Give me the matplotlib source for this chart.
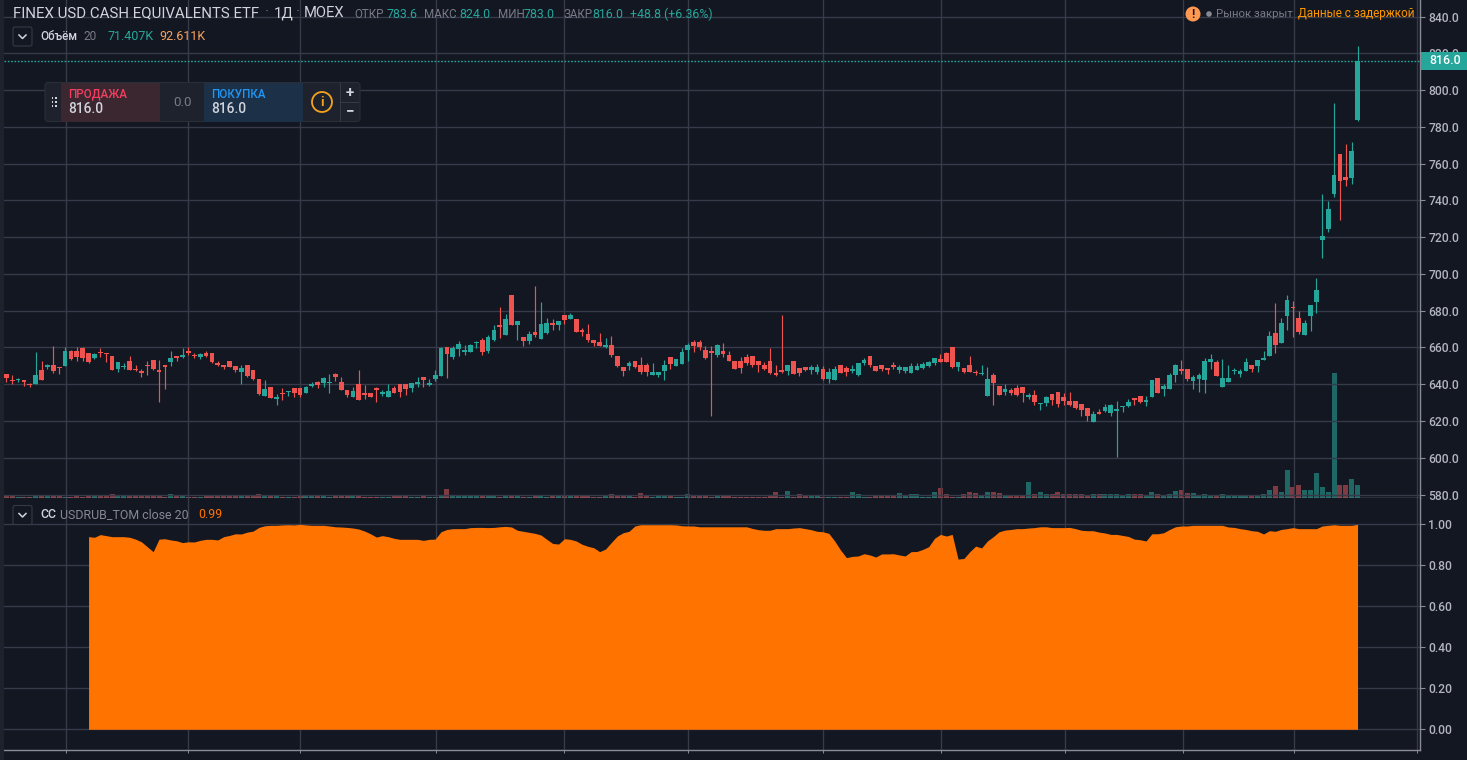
import numpy as np
import matplotlib
matplotlib.use("Agg")
import matplotlib.pyplot as plt
from matplotlib.patches import Rectangle, FancyBboxPatch, Circle
from matplotlib.transforms import Affine2D

# ---------- data ----------
opens = [
 645.4,642.3,642.3,642.2,640,640.2,647.7,649.2,650.5,649.2,
 650.1,658,658,659.6,656.8,654.2,657.8,657.1,655.3,648.3,
 649.2,652.6,648.5,647.4,650.5,653.2,647.7,650.3,652.1,655.1,
 654.8,658,655.9,654.6,656.9,656.8,651.7,650.3,652.4,649.7,
 646.7,650.5,647.7,642.9,633.7,638.6,632.1,635.3,635.7,637.8,
 637.8,635.5,639.1,641.3,640.9,640.7,645.4,641.1,636.9,633.3,
 640,635.1,635.1,637.8,634.8,633.3,638.2,640,640,637.7,
 640.2,643.8,639.6,642.7,644.5,660,654.6,659.1,657.7,657.3,
 662.5,664.3,658,664.3,672.1,666.7,688.8,672.1,665.6,663.4,
 668.3,664.5,667.9,673.3,672.3,677.5,675.3,675.3,669.4,667.6,
 664.3,662.9,660.2,661.1,655.3,649.2,649.9,652.4,650.5,650.5,
 645.2,645.2,647.2,654.6,649.9,651,658.6,662.9,662.9,658.6,
 658,655.7,658,655.9,652.6,652.6,654.6,655.3,652.6,650.5,
 652.6,646.3,647.7,647.2,652.6,648.6,649.2,647.7,646.8,648.1,
 642.9,642.3,650.5,648.6,647.2,644.9,651.4,655.3,649.9,650.5,
 648.6,650.5,647.7,647,646,647.7,649,649.9,651.4,653.7,
 656.8,660,649.5,648.6,650.5,646.8,645.4,633.7,645,638.9,
 635.9,636.8,638,638.4,633.3,634.2,629.4,629.9,634.8,635.7,
 633,631,631,629.4,627.2,619.3,624.7,625.6,624.3,625.2,
 627.6,628.3,632.4,633.7,630.1,633.3,643.4,637.6,637.6,645.1,
 648.3,648.3,642,642.7,642.4,652.1,652.1,638.6,641.3,647.1,
 645.8,647.4,650.3,649.9,653.4,655.6,668,662.6,677.3,682.3,
 675.8,666.9,677.3,684.8,718.3,724.3,743.3,765.5,752.8,752.5,
 783.6]
highs = [
 645.6,645,643.6,642.2,640.7,657.3,652.6,651,660.7,649.2,
 660,658.9,660,660,656.8,657.1,659.5,657.1,655.3,651.9,
 651.4,655.3,650.5,648.1,652.6,653.2,653.2,650.3,658,655.1,
 659.5,660,656.8,656.8,658,656.8,652.4,650.3,652.4,649.7,
 650.3,650.5,647.7,642.9,642.3,638.6,634.6,637.8,636.2,637.8,
 637.8,639,641.4,641.8,643.8,645.4,645.9,643.8,636.9,638.4,
 647.7,639.6,635.1,638.7,636.9,640,639.1,640,640,640.7,
 643.8,643.8,642.9,647.7,660,660,661,663.4,661.3,662,
 663.4,664.9,667,672.1,682.3,678,688.8,674.2,665.6,669,
 693.7,685,676.2,675.7,674.4,677.5,678.7,675.3,670.8,672.6,
 664.3,668,664.9,666.1,655.3,649.2,652.8,652.4,654.6,651.4,
 651.4,646.5,653.2,654.6,653.7,659.5,662.5,664.3,664.3,661,
 660.7,661.8,662.2,658,652.6,655,656.4,655.3,652.6,652.3,
 659.8,650.5,677.5,650.5,652.6,648.6,649.2,650.5,651,649.9,
 648.6,649.9,650.5,649.9,650.5,651.7,654.4,655.3,649.9,650.5,
 648.6,652.3,650.3,649.5,651.4,651.4,652.3,652.6,654.1,656.4,
 657.7,660,652.1,648.6,655.3,647.7,650.5,649.2,646,638.9,
 640.2,637.8,639.6,638.4,635.1,636.9,629.9,633.7,634.8,635.7,
 635.1,635.7,631,629.4,627.2,625.2,626.5,629.2,629.2,631,
 628.1,631.9,632.4,633.7,633.7,642.4,643.4,640.2,646,651,
 653.2,648.3,645.1,646,654.1,656.5,653.2,653.6,650.5,648.9,
 648.5,654.1,650.3,653.2,658.1,669,684,676.3,688.8,685.4,
 680,674.9,683,697.9,743.3,739.8,792.8,765.5,770.7,771.8,
 824]
lows = [
 641.4,640.2,641.4,639.1,638.7,640.2,642.3,648.1,646.3,645.8,
 650.1,653.2,652.6,652.6,651.4,653.9,655,652.3,647.9,646.8,
 648.1,647.7,647,644.1,645.2,647.7,630.1,637.5,649.9,652.8,
 654.4,655.7,654.4,653.5,654.6,651.4,649.9,648.1,649.5,646.8,
 640.2,643.8,642.3,634.2,633.7,632.3,628.8,631.5,633.7,632.8,
 632.8,635.5,638.4,637.8,638.7,635.5,642,636.9,633.3,633.3,
 631.5,631.9,632.8,630.5,633.7,633.3,635.1,633.3,634.2,636,
 638.7,638.7,639.1,642,644.5,643.6,653.5,655.3,655.9,657.3,
 659.5,655.9,657.1,663.6,665.2,666.7,672.1,664,660.7,661.8,
 665.8,664.5,667.6,669.7,669.4,672.6,675.3,668.5,666.1,663.1,
 660.7,660.7,659.8,655,649.2,644.7,647.7,648.6,645.6,644.7,
 645.2,643.8,642.3,648.3,649.9,651,652.6,657.5,658.6,653.5,
 622.5,655,654.6,652.6,648.3,646,650.5,649.5,646.7,647.7,
 645.4,644.5,646,645,645.6,644.5,647,645.6,645.6,642.3,
 640.9,642.3,646,644.5,646,644.5,650.5,649.5,647.4,647.4,
 645.6,648.1,646,646,646,647.7,648.1,649.5,650.5,652.3,
 651.9,648.6,647.2,646,646.5,645,645,633.7,628.8,634.2,
 634.2,634.2,633.7,630.6,632.1,628.8,625.8,627.9,628.8,627.6,
 628.8,628.3,626.7,622.5,619.8,619.3,623.6,624.7,622.9,600.4,
 624.7,627.6,628.8,630,628.4,633.3,635.5,633.7,637.6,641.3,
 645.4,641.6,637.3,635.8,635.5,648.1,644.5,638.6,641.3,645.6,
 644.2,647.4,646.7,646.9,653.4,655.6,656.8,662.6,669.5,665.9,
 667.3,666.9,668.9,678.5,708.7,722.8,741.8,729.2,747.8,749.2,
 783]
closes = [
 643.2,641.6,642.9,641.1,639.6,644.9,642.3,650.5,647,648.6,
 658,653.7,655,654.2,651.9,656.4,657.1,656.4,647.9,651.9,
 649.9,647.7,647.9,646.3,650.1,648.3,646.8,649.4,654.2,654.2,
 655.9,657.1,655.3,656.4,655.3,652.1,650.5,649.2,649.5,647.7,
 648.6,644.5,642.7,634.8,637.5,632.3,633.2,634.8,636.2,635.3,
 633.9,638.4,640.2,639.5,643.2,641.4,644.1,636.9,634.2,636.4,
 631.5,633.9,633.3,636.6,635.9,636.4,635.5,635.9,637.5,640.5,
 641.3,642.3,640.5,645,659.6,656.4,659.8,661.8,658.7,661.3,
 663.1,657.3,665.6,669.4,671.2,675.3,672.1,674.2,663.8,667.2,
 667,672.6,673.3,672.4,674.4,674.8,677.5,668.5,668.6,664,
 662.2,660.7,661.4,655.9,649.9,647.4,651.5,649.4,646.8,646.7,
 646.5,646.5,650.5,651,653.7,657.5,661.3,660.7,660,654.1,
 657.1,661.3,656.4,652.6,648.3,648.9,651.7,650.5,650.5,648.3,
 646,645,646.7,650.5,645.6,646,647.7,649.5,649.5,642.9,
 646.8,648.1,646,646.8,648.5,651.7,653.2,650.5,647.4,648.1,
 647.7,649.2,649.2,649.2,649.9,650.1,651,651.9,654.1,652.3,
 651.9,649.5,652.1,646.8,646.8,646,646.1,642.9,640.9,634.2,
 637.5,635.1,634.2,635.3,633.9,630.5,629.9,633.2,631.5,629.4,
 630.8,628.8,627.2,626.1,622.5,624,623.6,627.4,628.5,626.7,
 628.1,630.6,631.2,630.6,631.5,642.4,635.5,639.1,645.1,650.5,
 647.2,642.7,643.8,644.9,652.7,653.6,644.5,643.3,643.3,647.8,
 647.2,652.1,648.3,653.2,654.1,666.2,661.3,673.1,686.1,681.4,
 668.4,673.1,683,691.5,720.5,735.5,754.1,750.5,751,767.1,
 816]
volumes_k = [
 11,11,8,8,4,18,11,11,11,11,
 4,4,11,4,16,11,18,18,28,18,
 11,11,14,14,14,14,14,4,28,11,
 11,8,8,4,11,11,11,11,11,11,
 11,11,14,28,18,11,11,8,4,8,
 11,18,18,14,11,4,11,11,14,11,
 11,8,8,4,4,4,21,14,11,4,
 4,11,4,8,18,60,18,14,14,11,
 11,14,11,18,4,11,11,11,4,8,
 11,11,4,11,11,14,11,11,11,11,
 8,8,11,26,19,19,19,8,30,11,
 8,11,14,14,8,8,26,19,19,11,
 8,19,19,11,8,8,8,8,8,8,
 19,38,4,45,8,26,14,11,11,8,
 8,8,8,8,38,28,8,8,14,14,
 14,19,30,19,26,26,8,8,38,66,
 26,8,8,26,38,33,19,38,42,30,
 14,14,14,14,114,23,43,28,28,43,
 23,23,23,23,14,23,23,26,28,26,
 14,23,28,28,14,43,23,9,26,47,
 57,36,36,14,26,14,14,26,14,21,
 9,9,14,14,26,55,85,43,199,78,
 92,55,55,175,78,43,880,92,92,135,
 92.6]
cc_start = 14
cc_values = [
 .937,.934,.947,.942,.937,.937,.937,.934,.925,.912,.888,.864,.925,.927,.921,.917,.908,.912,.911,.919,
 .924,.924,.921,.937,.943,.951,.950,.959,.964,.982,.990,.992,.992,.994,.995,.994,.997,.994,.992,.992,
 .992,.989,.985,.984,.982,.979,.974,.964,.951,.935,.942,.937,.929,.924,.924,.924,.924,.919,.924,.925,
 .961,.972,.976,.976,.976,.981,.982,.982,.981,.982,.985,
 .987,.984,.968,.963,.958,.953,.945,.924,.904,.901,.927,.924,.916,.900,.890,.883,.864,.877,.909,.940,
 .956,.963,.989,.995,.995,.995,.995,.995,.995,.994,.990,.989,.989,.985,.985,.985,.985,.985,.985,.985,
 .985,.985,.977,.971,.968,.968,.976,.976,.976,.979,.981,.976,.971,.963,.961,.953,.916,.872,.835,.841,
 .843,.854,.848,.838,.853,.853,.854,.848,.843,.864,.865,.875,.888,.929,.948,.940,.948,.828,.831,.864,
 .891,.882,.916,.937,.961,
 .969,.972,.976,.976,.979,.981,.985,.985,.981,.981,.981,.982,.976,.968,.966,.966,.959,.955,.948,.948,
 .943,.938,.925,.922,.916,.951,.951,.956,.972,.985,.989,.989,.992,.992,.992,.992,.992,.992,.984,.982,
 .976,.972,.966,.963,.950,.966,.963,.972,.976,.981,.976,.976,.976,.976,.989,.992,.995,.992,.992,.992,.997]
price_ticks = list(range(580, 841, 20))
cc_ticks = [0, .2, .4, .6, .8, 1.0]
time_ticks = [10.11, 30.97, 49.99, 73.09, 94.98, 115.98, 139.06, 159.15, 180.15, 200.24, 219.23, 240.17]
last_price = 816.0

# ---------- style ----------
plt.rcParams['font.family'] = ['Roboto', 'DejaVu Sans']
BG = '#131722'; GRID = '#363a49'; AXIS = '#8a8d96'; TXT = '#b2b5be'
UP = '#26a69a'; DOWN = '#ef5350'; VUP = '#1f6764'; VDOWN = '#7f3a42'; ORANGE = '#ff7300'
W, H = 1467, 760
fig = plt.figure(figsize=(W/100, H/100), dpi=100, facecolor=BG)
px = Affine2D().scale(1/W, -1/H).translate(0, 1) + fig.transFigure

def axes_px(x0, y0, x1, y1):
    return fig.add_axes([x0/W, 1-y1/H, (x1-x0)/W, (y1-y0)/H])

idx = np.arange(len(closes))
o, h, l, c = map(np.array, (opens, highs, lows, closes))
up = c >= o
xlim = (-0.391, 240.63)

ax_vol = axes_px(4, 0, 1420, 497.7)
ax = axes_px(4, 0, 1420, 497.7)
ax2 = axes_px(4, 497.7, 1420, 750)
ax_vol.set_zorder(0); ax.set_zorder(1); ax2.set_zorder(1)
ax.patch.set_visible(False)

# volume
ax_vol.set_facecolor(BG)
ax_vol.bar(idx, volumes_k, width=0.86, color=np.where(up, VUP, VDOWN), linewidth=0)
ax_vol.set_xlim(*xlim); ax_vol.set_ylim(0, 3524)
ax_vol.axis('off')
ax_vol.patch.set_visible(True)

# candles
ax.vlines(idx, l, h, colors=np.where(up, UP, DOWN), linewidth=0.85, zorder=3)
ax.bar(idx, np.maximum(np.abs(c-o), 0.55), bottom=np.minimum(o, c), width=0.8,
       color=np.where(up, UP, DOWN), linewidth=0, zorder=3)
ax.set_xlim(*xlim); ax.set_ylim(578.26, 849.1)
ax.axhline(last_price, color=UP, lw=1.0, ls=(0, (1.2, 1.2)), zorder=4)

# correlation area
ax2.set_facecolor(BG)
ax2.fill_between(idx[cc_start:], 0, cc_values, color=ORANGE, linewidth=0, zorder=3)
ax2.set_xlim(*xlim); ax2.set_ylim(-0.1007, 1.1265)

for a, ticks, fmt in ((ax, price_ticks, '{:.1f}'), (ax2, cc_ticks, '{:.2f}')):
    a.set_axisbelow(True)
    a.yaxis.tick_right()
    a.set_yticks(ticks)
    a.set_yticklabels([fmt.format(t) for t in ticks], color=TXT, fontsize=8.7, fontweight='medium')
    a.set_xticks(time_ticks)
    a.grid(True, color=GRID, lw=1)
    a.tick_params(axis='y', length=3.6, width=0.8, color=AXIS, pad=2.3)
    for s in ('top', 'left'):
        a.spines[s].set_visible(False)
    for s in ('right', 'bottom'):
        a.spines[s].set_color(AXIS); a.spines[s].set_linewidth(1)
ax.tick_params(axis='x', length=0, labelbottom=False)
ax2.tick_params(axis='x', length=2.4, width=0.7, color=AXIS, labelbottom=False)

# ---------- overlays, placed in screen pixels ----------
def T(x, y, s, color=TXT, size=8.6, weight='normal', ha='left'):
    return fig.text(x, y, s, transform=px, color=color, fontsize=size, fontweight=weight,
                    ha=ha, va='center', zorder=20)

def R(x0, y0, x1, y1, fc, ec='none', lw=0, z=12):
    fig.add_artist(Rectangle((x0, y0), x1-x0, y1-y0, transform=px, facecolor=fc, edgecolor=ec, linewidth=lw, zorder=z))

# left strip, price tag
R(0, 0, 4, 760, '#1e222d')
R(1420.5, 52, 1467, 69.5, UP)
T(1429, 61, '816.0', '#ffffff', 8.9, 'medium')

# title line
T(13, 13, 'FINEX USD CASH EQUIVALENTS ETF', '#d1d4dc', 10.85)
T(265, 13, '·', '#787b86', 10.8)
T(274, 13, '1Д', '#d1d4dc', 10.85)
T(296, 13, '·', '#787b86', 10.8)
T(304, 13, 'MOEX', '#d1d4dc', 10.6)
for x, s, col, size in ((354, 'ОТКР', '#787b86', 8.4), (386.5, '783.6', UP, 8.9), (424, 'МАКС', '#787b86', 8.4),
                        (459, '824.0', UP, 8.9), (498, 'МИН', '#787b86', 8.4), (524, '783.0', UP, 8.9),
                        (564, 'ЗАКР', '#787b86', 8.4), (592.5, '816.0', UP, 8.9), (630, '+48.8 (+6.36%)', UP, 8.9)):
    T(x, 14, s, col, size)

# legends
def chevron(y):
    fig.add_artist(FancyBboxPatch((13, y), 19, 19, boxstyle='round,pad=0,rounding_size=2', transform=px,
                                  facecolor=BG, edgecolor='#363a45', linewidth=0.8, zorder=15))
    fig.add_artist(plt.Line2D([19, 22.5, 26], [y+8, y+11.5, y+8], transform=px, color='#d1d4dc', lw=1.1, zorder=16))
chevron(27); chevron(505.5)
T(40, 36, 'Объём', '#d1d4dc', 8.4, 'medium')
T(83, 36, '20', '#787b86', 8.6)
T(107, 36, '71.407K', UP, 9.0)
T(159, 36, '92.611K', '#f7a35c', 9.0)
T(40, 515, 'CC', '#d1d4dc', 8.8, 'medium')
T(60, 515, 'USDRUB_TOM close 20', '#868993', 8.9)
T(198, 515, '0.99', ORANGE, 8.9)

# top right status
fig.add_artist(Circle((1193, 14), 7.5, transform=px, facecolor='#ff9850', edgecolor='none', zorder=15))
T(1193, 14, '!', '#131722', 8.5, 'bold', ha='center')
fig.add_artist(Circle((1209, 14), 2.8, transform=px, facecolor='#868993', edgecolor='none', zorder=15))
T(1216, 14, 'Рынок закрыт', '#787b86', 8.2)
T(1298, 14, 'Данные с задержкой', '#ff9800', 8.45)

# trade panel
fig.add_artist(FancyBboxPatch((45, 82.5), 315, 39, boxstyle='round,pad=0,rounding_size=3', transform=px,
                              facecolor='#1e222d', edgecolor='#2a2e39', linewidth=0.8, zorder=12))
R(60.5, 83, 160, 121.5, '#3a2730', z=13)
R(203.5, 83, 303, 121.5, '#1c3147', z=13)
R(340, 83, 340.8, 121.5, '#363a45', z=13)
R(340, 102, 359, 102.8, '#363a45', z=13)
for yy in (97, 101, 105):
    for xx in (51.5, 55):
        fig.add_artist(Rectangle((xx, yy), 1.8, 1.8, transform=px, facecolor='#d1d4dc', zorder=15))
T(68, 94, 'ПРОДАЖА', '#f23f60', 8.4, 'medium')
T(68, 109, '816.0', '#d1d4dc', 9.9, 'medium')
T(182, 102, '0.0', '#787b86', 9.6, ha='center')
T(211, 94, 'ПОКУПКА', '#2196f3', 8.4, 'medium')
T(211, 109, '816.0', '#d1d4dc', 9.9, 'medium')
fig.add_artist(Circle((322, 102), 10, transform=px, facecolor='none', edgecolor='#f7a21e', linewidth=1.3, zorder=15))
T(322, 102, 'i', '#f7a21e', 9.5, 'bold', ha='center')
T(350, 92.5, '+', '#d1d4dc', 11, 'bold', ha='center')
T(350, 111.5, '−', '#d1d4dc', 11, 'bold', ha='center')

fig.savefig('out.png', dpi=100, facecolor=BG)
